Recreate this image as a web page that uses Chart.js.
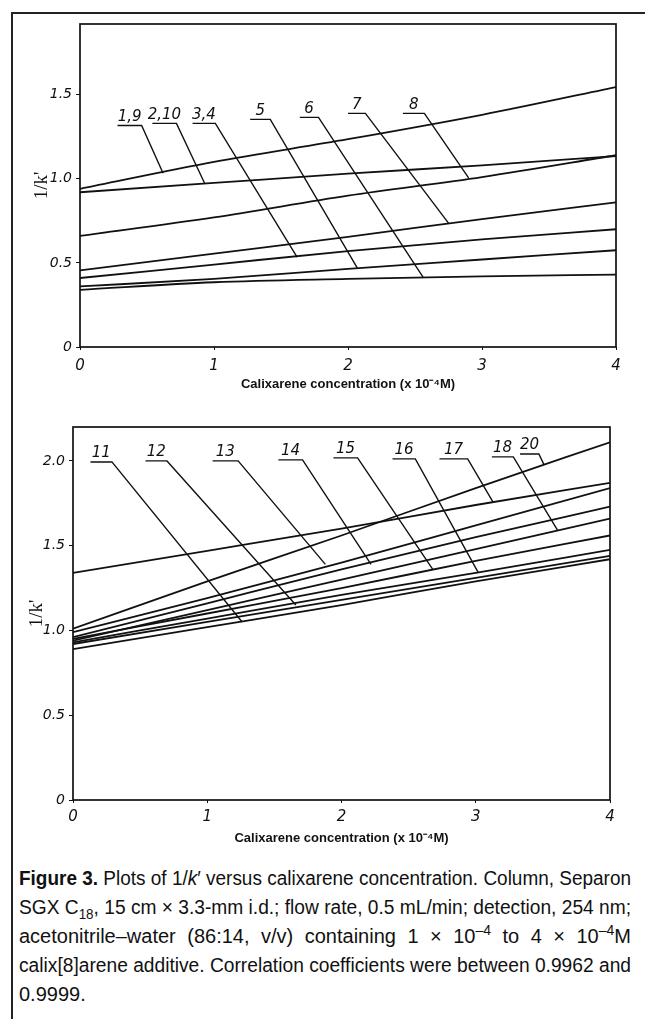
<!DOCTYPE html>
<html>
<head>
<meta charset="utf-8">
<script src="https://cdn.jsdelivr.net/npm/chart.js@4.4.1/dist/chart.umd.min.js"></script>
<style>
  body { margin: 0; background: #fff; width: 645px; height: 1019px; overflow: hidden; position: relative; }
  #frame { position: absolute; left: 11px; top: 12px; width: 700px; height: 1100px; border-left: 2px solid #222; border-top: 2px solid #222; }
  .wrap { position: absolute; left: 0; width: 645px; }
  #topWrap { top: 0; height: 400px; }
  #botWrap { top: 400px; height: 460px; }
  #caption { position: absolute; left: 19px; top: 864px; width: 612px; color: #111;
    font-family: 'Liberation Sans', Arial, sans-serif; font-size: 20px; line-height: 29px; }
  #caption div { white-space: nowrap; text-align: left; }
  #caption div.just { text-align: justify; text-align-last: justify; }
  #caption div.squeeze { transform-origin: 0 0; }
  #caption sub, #caption sup { font-size: 0.7em; line-height: 0; }
</style>
</head>
<body>
<div id="frame"></div>
<div class="wrap" id="topWrap"><canvas id="topChart" width="645" height="400"></canvas></div>
<div class="wrap" id="botWrap"><canvas id="botChart" width="645" height="460"></canvas></div>
<div id="caption">
  <div><span><b>Figure 3.</b> Plots of 1/<i>k</i>′ versus calixarene concentration. Column, Separon</span></div>
  <div><span>SGX C<sub>18</sub>, 15 cm × 3.3-mm i.d.; flow rate, 0.5 mL/min; detection, 254 nm;</span></div>
  <div><span>acetonitrile–water (86:14, v/v) containing 1 × 10<sup>–4</sup> to 4 × 10<sup>–4</sup>M</span></div>
  <div><span>calix[8]arene additive. Correlation coefficients were between 0.9962 and</span></div>
  <div class="last"><span>0.9999.</span></div>
</div>
<script>
// concentration (x 10^-4 M)
const concentration = [0, 1, 2, 3, 4];
const xTickValues = [0, 1, 2, 3, 4];

// upper panel, 1/k' values
const topNames = ['1,9', '2,10', '8', '7', '3,4', '5', '6'];
const top_1_9  = [0.94, 1.10, 1.235, 1.38, 1.545];
const top_2_10 = [0.92, 0.975, 1.03, 1.08, 1.135];
const top_8    = [0.66, 0.77, 0.90, 1.01, 1.14];
const top_7    = [0.455, 0.555, 0.655, 0.76, 0.86];
const top_3_4  = [0.41, 0.49, 0.57, 0.64, 0.70];
const top_5    = [0.36, 0.405, 0.465, 0.52, 0.575];
const top_6    = [0.34, 0.385, 0.405, 0.42, 0.43];
const topSeries = [top_1_9, top_2_10, top_8, top_7, top_3_4, top_5, top_6];
const topYTickValues = [0, 0.5, 1, 1.5];
const topYTickLabels = ['0', '0.5', '1.0', '1.5'];

// lower panel, 1/k' values
const botNames = ['20', '17', '13', '14', '18', '15', '16', '12', '11'];
const bot_20 = [1.01, 1.29, 1.56, 1.84, 2.11];
const bot_17 = [1.34, 1.47, 1.60, 1.74, 1.87];
const bot_13 = [0.99, 1.19, 1.40, 1.62, 1.84];
const bot_14 = [0.96, 1.16, 1.36, 1.55, 1.73];
const bot_18 = [0.94, 1.12, 1.30, 1.48, 1.66];
const bot_15 = [0.95, 1.10, 1.25, 1.41, 1.56];
const bot_16 = [0.93, 1.07, 1.21, 1.34, 1.475];
const bot_12 = [0.92, 1.05, 1.18, 1.31, 1.44];
const bot_11 = [0.89, 1.02, 1.15, 1.29, 1.42];
const botSeries = [bot_20, bot_17, bot_13, bot_14, bot_18, bot_15, bot_16, bot_12, bot_11];
const botYTickValues = [0, 0.5, 1, 1.5, 2];
const botYTickLabels = ['0', '0.5', '1.0', '1.5', '2.0'];

// callout placement in data units: underline from x0 to x1 at y, leader to (ex, ey)
const topCallouts = [
  { text: '1,9',  x0: 0.28, x1: 0.46, y: 1.317, ex: 0.62, ey: 1.033 },
  { text: '2,10', x0: 0.54, x1: 0.72, y: 1.329, ex: 0.93, ey: 0.973 },
  { text: '3,4',  x0: 0.84, x1: 1.01, y: 1.329, ex: 1.62, ey: 0.534 },
  { text: '5',    x0: 1.27, x1: 1.42, y: 1.353, ex: 2.07, ey: 0.469 },
  { text: '6',    x0: 1.64, x1: 1.78, y: 1.365, ex: 2.56, ey: 0.415 },
  { text: '7',    x0: 2.00, x1: 2.13, y: 1.389, ex: 2.75, ey: 0.736 },
  { text: '8',    x0: 2.41, x1: 2.57, y: 1.389, ex: 2.90, ey: 1.005 }
];
const botCallouts = [
  { text: '11', x0: 0.13, x1: 0.29, y: 1.994, ex: 1.26, ey: 1.05 },
  { text: '12', x0: 0.54, x1: 0.70, y: 2.000, ex: 1.66, ey: 1.15 },
  { text: '13', x0: 1.04, x1: 1.23, y: 2.000, ex: 1.88, ey: 1.39 },
  { text: '14', x0: 1.53, x1: 1.71, y: 2.006, ex: 2.22, ey: 1.39 },
  { text: '15', x0: 1.94, x1: 2.12, y: 2.018, ex: 2.68, ey: 1.36 },
  { text: '16', x0: 2.38, x1: 2.55, y: 2.012, ex: 3.02, ey: 1.34 },
  { text: '17', x0: 2.73, x1: 2.94, y: 2.012, ex: 3.13, ey: 1.755 },
  { text: '18', x0: 3.12, x1: 3.28, y: 2.024, ex: 3.61, ey: 1.59 },
  { text: '20', x0: 3.33, x1: 3.47, y: 2.041, ex: 3.51, ey: 1.975 }
];

const INK = '#111';

// caption: justify lines that fit, squeeze the ones that don't
document.querySelectorAll('#caption div').forEach(d => {
  if (d.classList.contains('last')) return;
  const w = d.firstElementChild.getBoundingClientRect().width;
  if (w > 612) {
    d.classList.add('squeeze');
    d.style.transform = 'scaleX(' + (612 / w).toFixed(4) + ')';
  } else {
    d.classList.add('just');
  }
});

// box around the plot area
const framePlugin = {
  id: 'frame',
  afterDatasetsDraw(chart) {
    const { ctx, chartArea: a } = chart;
    ctx.save();
    ctx.strokeStyle = INK;
    ctx.lineWidth = 1.7;
    ctx.strokeRect(a.left, a.top, a.right - a.left, a.bottom - a.top);
    ctx.restore();
  }
};

// numbered labels with underline and leader line
const calloutPlugin = {
  id: 'callouts',
  afterDatasetsDraw(chart, args, opts) {
    const { ctx } = chart;
    const xs = chart.scales.x, ys = chart.scales.y;
    ctx.save();
    ctx.strokeStyle = INK;
    ctx.fillStyle = INK;
    ctx.lineWidth = 1.4;
    ctx.font = 'italic 15px "DejaVu Sans"';
    ctx.textAlign = 'center';
    ctx.textBaseline = 'bottom';
    (opts.items || []).forEach(c => {
      const px0 = xs.getPixelForValue(c.x0), px1 = xs.getPixelForValue(c.x1);
      const py = ys.getPixelForValue(c.y);
      ctx.beginPath();
      ctx.moveTo(px0, py);
      ctx.lineTo(px1, py);
      ctx.lineTo(xs.getPixelForValue(c.ex), ys.getPixelForValue(c.ey));
      ctx.stroke();
      ctx.fillText(c.text, (px0 + px1) / 2, py - 1);
    });
    ctx.restore();
  }
};

function makeChart(id, names, series, yMax, yTickValues, yTickLabels, callouts, geo) {
  const datasets = series.map((vals, i) => ({
    label: names[i],
    data: concentration.map((c, j) => ({ x: c, y: vals[j] })),
    borderColor: INK,
    borderWidth: 1.8,
    pointRadius: 0,
    tension: 0.25,
    cubicInterpolationMode: 'monotone',
    fill: false
  }));
  return new Chart(document.getElementById(id).getContext('2d'), {
    type: 'line',
    data: { datasets },
    options: {
      responsive: false,
      animation: false,
      events: [],
      layout: { padding: { top: geo.top, right: geo.right, left: 0, bottom: 0 } },
      scales: {
        x: {
          type: 'linear', min: 0, max: 4,
          afterBuildTicks: s => { s.ticks = xTickValues.map(v => ({ value: v })); },
          afterFit: s => { s.height = geo.xHeight; },
          ticks: { color: INK, padding: geo.xTickPad, font: { family: 'DejaVu Sans', style: 'italic', size: 15 } },
          grid: { drawOnChartArea: false, drawTicks: true, tickLength: 3, color: INK },
          border: { display: false },
          title: {
            display: true, color: INK,
            text: 'Calixarene concentration (x 10⁻⁴M)',
            font: { family: 'Liberation Sans', weight: 'bold', size: 13 },
            padding: { top: 0, bottom: geo.xTitlePad }
          }
        },
        y: {
          type: 'linear', min: 0, max: yMax,
          afterBuildTicks: s => { s.ticks = yTickValues.map(v => ({ value: v })); },
          afterFit: s => { s.width = geo.yWidth; },
          ticks: {
            color: INK, padding: 4, font: { family: 'DejaVu Sans', style: 'italic', size: 14 },
            callback: v => {
              const i = yTickValues.findIndex(t => Math.abs(t - v) < 1e-6);
              return i >= 0 ? yTickLabels[i] : '';
            }
          },
          grid: { drawOnChartArea: false, drawTicks: true, tickLength: 4, color: INK },
          border: { display: false },
          title: {
            display: true, color: INK, text: "1/k'",
            font: { family: 'Liberation Serif', size: 19 },
            padding: { top: geo.yTitlePad, bottom: 0 }
          }
        }
      },
      plugins: {
        legend: { display: false },
        tooltip: { enabled: false },
        callouts: { items: callouts }
      }
    },
    plugins: [framePlugin, calloutPlugin]
  });
}

makeChart('topChart', topNames, topSeries, 1.92, topYTickValues, topYTickLabels, topCallouts,
  { top: 24, right: 29, yWidth: 80, xHeight: 53, xTickPad: 7, xTitlePad: 8, yTitlePad: 31 });
makeChart('botChart', botNames, botSeries, 2.2, botYTickValues, botYTickLabels, botCallouts,
  { top: 27, right: 35, yWidth: 73, xHeight: 60, xTickPad: 5, xTitlePad: 14, yTitlePad: 26 });
</script>
</body>
</html>
